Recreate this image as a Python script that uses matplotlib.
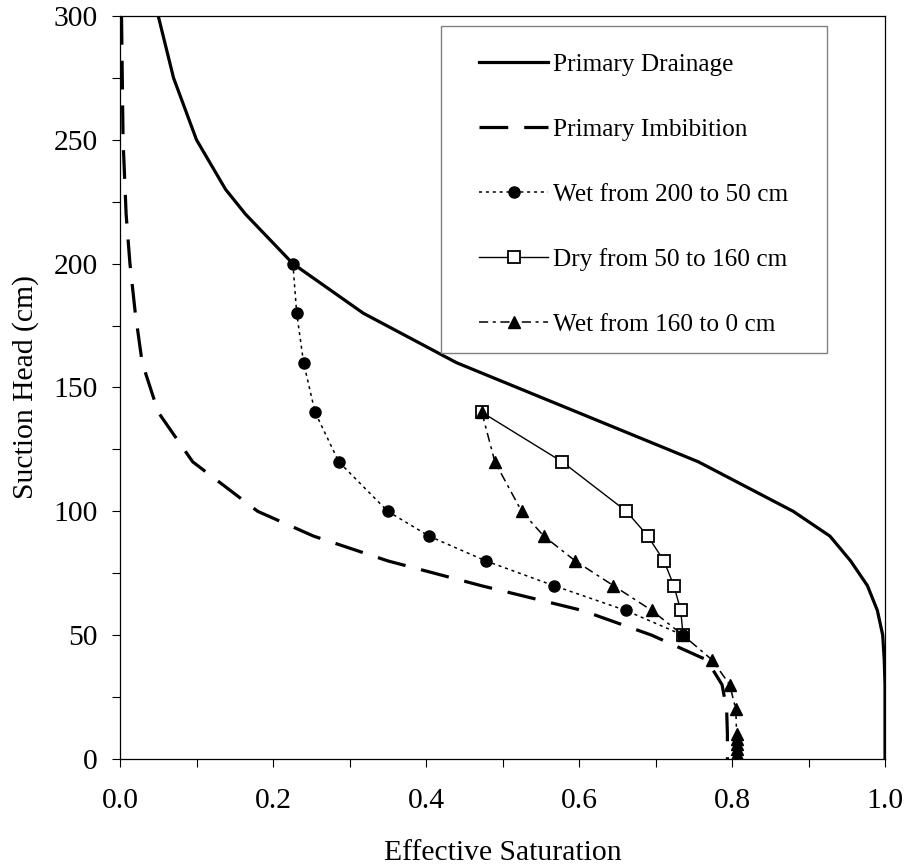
import matplotlib
matplotlib.use('Agg')
import matplotlib.pyplot as plt
from matplotlib.patches import Rectangle
from matplotlib.ticker import MultipleLocator, FuncFormatter

# Primary drainage curve
drain_head = [300, 275, 250, 230, 220, 200, 180, 160, 140, 120, 100, 90, 80, 70, 60, 50, 40, 30, 20, 10, 0]
drain_sat = [0.05, 0.07, 0.10, 0.138, 0.164, 0.226, 0.318, 0.44, 0.598, 0.756, 0.88, 0.928, 0.955, 0.977,
             0.99, 0.997, 0.999, 1.0, 1.0, 1.0, 1.0]

# Primary imbibition curve
imb_head = [300, 250, 220, 200, 180, 160, 140, 120, 100, 90, 80, 70, 60, 50, 40, 30, 20, 10, 0]
imb_sat = [0.002, 0.004, 0.008, 0.013, 0.02, 0.029, 0.05, 0.095, 0.18, 0.253, 0.35, 0.472, 0.604,
           0.695, 0.767, 0.787, 0.793, 0.794, 0.794]

# Wet from 200 to 50 cm
wet1_head = [200, 180, 160, 140, 120, 100, 90, 80, 70, 60, 50]
wet1_sat = [0.226, 0.231, 0.24, 0.255, 0.286, 0.35, 0.404, 0.478, 0.567, 0.661, 0.736]

# Dry from 50 to 160 cm
dry_head = [50, 60, 70, 80, 90, 100, 120, 140]
dry_sat = [0.736, 0.733, 0.724, 0.711, 0.690, 0.662, 0.578, 0.473]

# Wet from 160 to 0 cm
wet2_head = [140, 120, 100, 90, 80, 70, 60, 50, 40, 30, 20, 10, 8, 6, 4, 2, 0]
wet2_sat = [0.473, 0.490, 0.525, 0.554, 0.595, 0.645, 0.695, 0.736, 0.774, 0.797, 0.805, 0.806,
            0.806, 0.806, 0.807, 0.807, 0.807]

plt.rcParams['font.family'] = ['Liberation Serif', 'DejaVu Serif']
FS = 21.3

fig = plt.figure(figsize=(9.06, 8.67), dpi=100)
ax = fig.add_axes([120 / 906, 1 - 759 / 867, 765 / 906, 743 / 867])

ax.plot(drain_sat, drain_head, color='black', lw=2.3, label='Primary Drainage')
ax.plot(imb_sat, imb_head, color='black', lw=2.3, linestyle=(0, (9, 5)),
        label='Primary Imbibition')
# dry drawn first so the wetting markers sit on top of the shared 50 cm point
l_dry, = ax.plot(dry_sat, dry_head, color='black', lw=1.0, marker='s', markersize=9,
                 markerfacecolor='white', markeredgewidth=1.3, label='Dry from 50 to 160 cm')
l_wet1, = ax.plot(wet1_sat, wet1_head, color='black', lw=1.1, linestyle=(0, (2, 2.5)),
                  marker='o', markersize=8, label='Wet from 200 to 50 cm')
l_wet2, = ax.plot(wet2_sat, wet2_head, color='black', lw=1.1, linestyle=(0, (6, 3, 2, 3)),
                  marker='^', markersize=8.5, label='Wet from 160 to 0 cm')

ax.set_xlim(0, 1.0)
ax.set_ylim(0, 300)
ax.xaxis.set_major_locator(MultipleLocator(0.1))
ax.yaxis.set_major_locator(MultipleLocator(25))
ax.xaxis.set_major_formatter(FuncFormatter(
    lambda v, p: '%.1f' % v if round(v * 10) % 2 == 0 else ''))
ax.yaxis.set_major_formatter(FuncFormatter(
    lambda v, p: '%d' % v if round(v) % 50 == 0 else ''))
ax.tick_params(axis='both', direction='out', length=6, width=0.8, labelsize=FS)
ax.tick_params(axis='x', pad=15)
ax.tick_params(axis='y', pad=10)
for s in ax.spines.values():
    s.set_linewidth(0.9)

ax.set_xlabel('Effective Saturation', fontsize=FS, va='center')
ax.set_ylabel('Suction Head (cm)', fontsize=FS, va='center')
ax.xaxis.set_label_coords(0.5, -0.127)
ax.yaxis.set_label_coords(-0.124, 0.5)

# legend box
ax.add_patch(Rectangle((0.4196, 0.5465), 0.5046, 0.44, transform=ax.transAxes,
                       facecolor='white', edgecolor='#808080', lw=1.0, zorder=5))
handles, labels = ax.get_legend_handles_labels()
order = [0, 1, 3, 2, 4]
leg = ax.legend([handles[i] for i in order], [labels[i] for i in order],
                loc='upper left', bbox_to_anchor=(0.4693, 0.950), frameon=False,
                fontsize=18.2, handlelength=2.73, handletextpad=0.2, labelspacing=1.67,
                borderpad=0, borderaxespad=0)
leg.set_zorder(6)

fig.savefig('out.png', dpi=100)
